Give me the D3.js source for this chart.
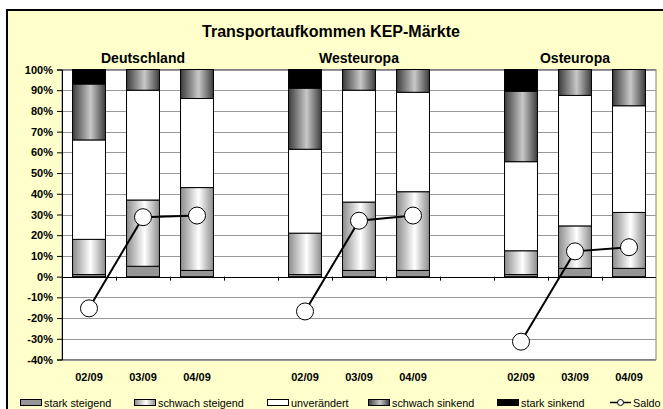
<!DOCTYPE html>
<html><head><meta charset="utf-8">
<script src="https://cdn.jsdelivr.net/npm/d3@7"></script>
<style>body{margin:0;background:#fff}svg{display:block}</style>
</head><body>
<script>
const title = "Transportaufkommen KEP-Märkte";
const groups = ["Deutschland","Westeuropa","Osteuropa"];
const groupCenters = [1,5,9];
const categories = ["02/09","03/09","04/09","","02/09","03/09","04/09","","02/09","03/09","04/09"];
const starkSteigend   = [1, 5, 3, null, 1, 3, 3, null, 1, 4, 4];
const schwachSteigend = [17,32,40, null,20,33,38, null,11.5,20.5,27];
const unveraendert    = [48,53,43, null,40.5,54,48, null,43,63,51.5];
const schwachSinkend  = [27,10,14, null,29.5,10,11, null,34,12.5,17.5];
const starkSinkend    = [7, 0, 0, null, 9, 0, 0, null,10.5,0,0];
const saldo           = [-15.3,28.7,29.5, null,-16.8,27,29.5, null,-31.4,12.2,14.2];
const yTicks = [-40,-30,-20,-10,0,10,20,30,40,50,60,70,80,90,100];
const seriesNames = ["stark steigend","schwach steigend","unverändert","schwach sinkend","stark sinkend"];

const W=663,H=409;
const svg=d3.select("body").append("svg").attr("width",W).attr("height",H);
const defs=svg.append("defs");
function grad(id,edge,center,pos){
  const g=defs.append("linearGradient").attr("id",id).attr("x1","0").attr("x2","1").attr("y1","0").attr("y2","0");
  g.append("stop").attr("offset","0").attr("stop-color",edge);
  g.append("stop").attr("offset",pos).attr("stop-color",center);
  g.append("stop").attr("offset","1").attr("stop-color",edge);
}
grad("gSteig","#8c8c8c","#ffffff","0.55");
grad("gSink","#3c3c3c","#c8c8c8","0.55");
const fills=["#969696","url(#gSteig)","#ffffff","url(#gSink)","#000000"];
const font="'Liberation Sans', Arial, sans-serif";

// background frame
svg.append("rect").attr("x",7).attr("y",10).attr("width",660).attr("height",410)
  .attr("fill","#ffffcc").attr("stroke","#000").attr("stroke-width",2);

const pLeft=62,pRight=656,pTop=69.5,pBottom=359.5;
const x=d3.scaleBand().domain(d3.range(categories.length)).range([pLeft,pRight]).paddingInner(0.39).paddingOuter(0.195);
const xs=d3.scaleBand().domain(d3.range(categories.length)).range([pLeft,pRight]);
const y=d3.scaleLinear().domain([-40,100]).range([pBottom,pTop]);

svg.append("rect").attr("x",pLeft).attr("y",pTop).attr("width",pRight-pLeft).attr("height",bottomH())
  .attr("fill","#fff").attr("stroke","#808080").attr("stroke-width",1);
function bottomH(){return pBottom-pTop;}

// gridlines
svg.append("g").selectAll("line").data(yTicks).join("line")
  .attr("x1",pLeft).attr("x2",pRight).attr("y1",d=>Math.round(y(d))+0.5).attr("y2",d=>Math.round(y(d))+0.5)
  .attr("stroke","#999").attr("stroke-width",1);

// y axis
const yAxis=d3.axisLeft(y).tickValues(yTicks).tickFormat(d=>d+"%").tickSize(5).tickPadding(4);
const ya=svg.append("g").attr("transform",`translate(${pLeft},0)`).call(yAxis);
ya.select(".domain").attr("stroke","#000");
ya.selectAll(".tick line").attr("stroke","#000");
ya.selectAll("text").attr("font-family",font).attr("font-weight","bold").attr("font-size",11).attr("fill","#000");

// stacked bars
const rows=categories.map((c,i)=>({i,v:[starkSteigend[i],schwachSteigend[i],unveraendert[i],schwachSinkend[i],starkSinkend[i]]}));
const stack=d3.stack().keys([0,1,2,3,4]).value((d,k)=>d.v[k]||0);
const stacked=stack(rows.filter(r=>r.v[0]!==null));
svg.append("g").selectAll("g").data(stacked).join("g").attr("fill",(d,k)=>fills[k])
  .selectAll("rect").data(d=>d.filter(p=>p[1]-p[0]>0)).join("rect")
  .attr("x",d=>x(d.data.i)).attr("width",x.bandwidth())
  .attr("y",d=>y(d[1])).attr("height",d=>y(d[0])-y(d[1]))
  .attr("stroke","#000").attr("stroke-width",1);

// x axis at 0
svg.append("line").attr("x1",pLeft).attr("x2",pRight).attr("y1",Math.round(y(0))+0.5).attr("y2",Math.round(y(0))+0.5).attr("stroke","#000");
svg.append("g").selectAll("line").data(d3.range(1,categories.length)).join("line")
  .attr("x1",d=>Math.round(xs(d))+0.5).attr("x2",d=>Math.round(xs(d))+0.5)
  .attr("y1",y(0)).attr("y2",y(0)+4).attr("stroke","#000");
svg.append("g").selectAll("text").data(categories.map((c,i)=>({c,i}))).join("text")
  .attr("x",d=>xs(d.i)+xs.bandwidth()/2).attr("y",381).attr("text-anchor","middle")
  .attr("font-family",font).attr("font-weight","bold").attr("font-size",11).text(d=>d.c);

// saldo line
const line=d3.line().defined(d=>d.v!==null).x(d=>xs(d.i)+xs.bandwidth()/2).y(d=>y(d.v));
const sd=saldo.map((v,i)=>({v,i}));
svg.append("path").attr("d",line(sd)).attr("fill","none").attr("stroke","#000").attr("stroke-width",2);
svg.append("g").selectAll("circle").data(sd.filter(d=>d.v!==null)).join("circle")
  .attr("cx",d=>xs(d.i)+xs.bandwidth()/2).attr("cy",d=>y(d.v)).attr("r",8.5)
  .attr("fill","#fff").attr("stroke","#000").attr("stroke-width",1);

// titles
svg.append("text").attr("x",331).attr("y",37).attr("text-anchor","middle").attr("font-family",font)
  .attr("font-weight","bold").attr("font-size",16).text(title);
svg.append("g").selectAll("text").data(groups).join("text")
  .attr("x",(d,i)=>xs(groupCenters[i])+xs.bandwidth()/2).attr("y",63).attr("text-anchor","middle")
  .attr("font-family",font).attr("font-weight","bold").attr("font-size",14).text(d=>d);

// legend
const legX=[20,134,267,368,497];
const lg=svg.append("g");
seriesNames.forEach((n,k)=>{
  lg.append("rect").attr("x",legX[k]+0.5).attr("y",399.5).attr("width",21).attr("height",6)
    .attr("fill",fills[k]).attr("stroke","#000").attr("stroke-width",1);
  lg.append("text").attr("x",legX[k]+24).attr("y",406.5).attr("font-family",font).attr("font-size",10.8).text(n);
});
lg.append("line").attr("x1",610).attr("x2",631).attr("y1",402.5).attr("y2",402.5).attr("stroke","#000").attr("stroke-width",1.5);
lg.append("circle").attr("cx",620.5).attr("cy",402.5).attr("r",3).attr("fill","#fff").attr("stroke","#000");
lg.append("text").attr("x",633).attr("y",406.5).attr("font-family",font).attr("font-size",10.8).text("Saldo");
</script>
</body></html>
